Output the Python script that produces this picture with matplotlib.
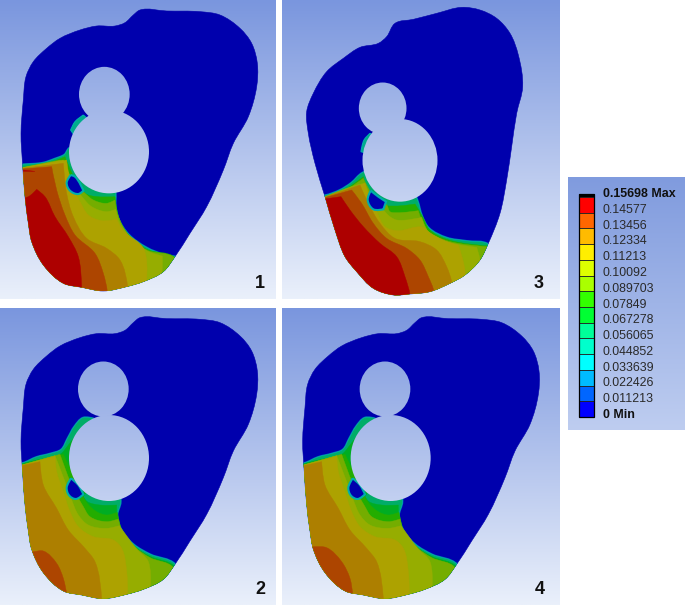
import numpy as np
import matplotlib
matplotlib.use("Agg")
import matplotlib.pyplot as plt
from matplotlib.patches import PathPatch, Ellipse, Rectangle
from matplotlib.path import Path

plt.rcParams["font.family"] = ["Liberation Sans", "DejaVu Sans"]

# legend
legend_labels = ["0.15698 Max", "0.14577", "0.13456", "0.12334", "0.11213", "0.10092",
                 "0.089703", "0.07849", "0.067278", "0.056065", "0.044852", "0.033639",
                 "0.022426", "0.011213", "0 Min"]
legend_colors = ["#FF0000", "#FF6600", "#FFBB00", "#FFEE00", "#DDFF00", "#AAFF00", "#33FF00",
                 "#00FF33", "#00FF99", "#00FFCC", "#00FFFF", "#00BBFF", "#0066FF", "#0000FF"]
panel_labels = ["1", "2", "3", "4"]

outline_a = [(420, 30), (500, 33), (600, 35), (660, 45), (720, 85), (755, 130), (772, 190), (770, 260),
             (745, 350), (700, 430), (670, 510), (620, 620), (570, 700), (525, 770), (490, 815), (430, 845),
             (380, 860), (310, 873), (245, 862), (190, 850), (130, 795), (95, 725), (85, 670), (75, 590),
             (68, 495), (63, 400), (70, 300), (78, 230), (100, 185), (140, 145), (180, 115), (240, 90),
             (290, 78), (345, 78), (375, 68), (400, 45)]
outline_b = [(545, 22), (600, 30), (650, 55), (690, 100), (715, 165), (728, 260), (710, 340), (695, 440),
             (680, 540), (660, 640), (625, 730), (600, 780), (555, 825), (510, 850), (450, 875), (390, 882),
             (340, 885), (280, 865), (230, 815), (195, 770), (165, 690), (135, 590), (105, 490), (85, 400),
             (80, 335), (100, 280), (140, 215), (190, 175), (240, 142), (295, 130), (320, 110), (345, 70),
             (400, 58), (470, 40)]

# holes: centre x, centre y, width, height
holes_1 = [(313, 283, 152, 165), (327, 455, 240, 250)]
holes_2 = [(310, 252, 152, 165), (327, 459, 240, 258)]
holes_3 = [(308, 325, 143, 155), (360, 481, 225, 248)]

# teal slivers above the big hole
sliver_1 = [(250, 345), (225, 365), (212, 390), (225, 410), (290, 380)]
sliver_3 = [(270, 400), (252, 420), (243, 455), (290, 470), (300, 420)]

# stress bands of panel 1, (legend index from the bottom, polygon)
front_1 = [(30, 497), (70, 495), (130, 490), (165, 478), (195, 465), (210, 445), (330, 450), (345, 580),
           (345, 620), (355, 660), (385, 705), (440, 745), (490, 765), (530, 772), (560, 900), (30, 900)]
bands_1 = [
    (7, [(30, 503), (130, 495), (195, 470), (245, 570), (265, 585), (345, 590), (350, 625), (360, 662),
         (388, 707), (440, 748), (525, 773), (560, 900), (30, 900)]),
    (8, [(30, 510), (180, 480), (240, 565), (255, 580), (280, 600), (320, 610), (345, 600), (352, 640),
         (388, 710), (440, 750), (525, 775), (560, 900), (30, 900)]),
    (9, [(30, 510), (190, 480), (225, 560), (250, 595), (275, 620), (320, 635), (347, 628), (358, 665),
         (388, 708), (440, 752), (487, 768), (487, 800), (480, 900), (30, 900)]),
    (10, [(30, 510), (200, 480), (215, 560), (240, 605), (265, 645), (305, 662), (350, 658), (368, 690),
          (432, 748), (432, 900), (30, 900)]),
    (11, [(30, 510), (190, 490), (200, 580), (220, 650), (260, 715), (320, 745), (360, 780), (383, 860),
          (383, 900), (30, 900)]),
    (12, [(30, 510), (155, 500), (170, 570), (195, 645), (225, 705), (285, 760), (310, 820), (322, 875),
          (322, 900), (30, 900)]),
    (13, [(30, 600), (85, 590), (110, 568), (135, 590), (165, 650), (205, 710), (235, 770), (245, 862),
          (245, 900), (30, 900)]),
    (13, [(70, 510), (105, 514), (70, 514)]),
]
pocket_1 = [(212, 525), (200, 548), (210, 572), (235, 582), (250, 572), (225, 530)]

# panels 2 and 4 share the same field, only the corner blob grows
front_2 = [(30, 478), (68, 476), (110, 458), (150, 448), (185, 435), (205, 400), (225, 365), (250, 340),
           (278, 342), (330, 450), (360, 590), (350, 630), (365, 680), (400, 720), (450, 750), (525, 780),
           (560, 900), (30, 900)]
bands_2 = [
    (6, [(30, 485), (110, 465), (180, 448), (205, 420), (240, 375), (330, 450), (250, 575), (262, 590),
         (300, 600), (350, 600), (352, 640), (367, 682), (402, 724), (450, 754), (525, 785), (560, 900),
         (30, 900)]),
    (7, [(30, 490), (190, 448), (215, 500), (262, 595), (290, 620), (320, 630), (352, 622), (358, 650),
         (370, 690), (405, 727), (450, 758), (520, 788), (540, 900), (30, 900)]),
    (8, [(30, 490), (180, 448), (215, 540), (250, 605), (270, 635), (320, 650), (355, 642), (368, 685),
         (405, 727), (450, 758), (520, 788), (540, 900), (30, 900)]),
    (9, [(30, 490), (165, 452), (195, 530), (215, 585), (235, 630), (265, 660), (320, 670), (358, 662),
         (410, 732), (445, 770), (445, 900), (30, 900)]),
    (10, [(30, 490), (165, 455), (170, 500), (190, 560), (208, 615), (235, 665), (280, 695), (340, 705),
          (365, 730), (380, 800), (383, 900), (30, 900)]),
    (11, [(30, 490), (120, 470), (130, 540), (170, 610), (205, 675), (255, 730), (285, 770), (305, 880),
          (305, 900), (30, 900)]),
]
blob_2 = [(30, 745), (100, 740), (130, 738), (170, 775), (190, 820), (200, 865), (150, 900), (30, 900)]
blob_4 = [(30, 730), (100, 725), (135, 728), (180, 770), (205, 820), (213, 865), (150, 900), (30, 900)]
pocket_2 = [(213, 520), (200, 548), (208, 572), (228, 582), (250, 568), (235, 540)]

# panel 3
front_3 = [(110, 590), (135, 588), (180, 572), (215, 550), (248, 520), (360, 490), (410, 600), (425, 650),
           (445, 685), (500, 715), (560, 725), (625, 735), (660, 800), (660, 920), (110, 920)]
bands_3 = [
    (7, [(110, 597), (180, 578), (215, 556), (250, 530), (285, 608), (345, 618), (405, 612), (428, 650),
         (448, 688), (500, 718), (625, 738), (660, 900), (110, 920)]),
    (8, [(110, 600), (180, 580), (250, 535), (290, 600), (320, 615), (330, 635), (350, 638), (415, 632),
         (440, 690), (500, 722), (620, 740), (680, 900), (110, 920)]),
    (9, [(110, 600), (230, 555), (255, 550), (285, 610), (305, 625), (330, 650), (350, 660), (425, 652),
         (445, 695), (500, 725), (590, 742), (600, 780), (600, 920), (110, 920)]),
    (10, [(110, 600), (255, 550), (265, 585), (290, 635), (315, 680), (350, 692), (430, 682), (445, 695),
          (500, 725), (535, 735), (555, 815), (540, 920), (110, 920)]),
    (11, [(110, 600), (240, 555), (265, 610), (300, 670), (345, 715), (420, 725), (470, 750), (500, 800),
          (515, 845), (520, 920), (110, 920)]),
    (12, [(110, 600), (215, 570), (245, 610), (280, 670), (320, 715), (380, 745), (420, 780), (445, 830),
          (462, 875), (462, 920), (110, 920)]),
    (13, [(110, 600), (183, 590), (210, 630), (250, 680), (300, 730), (350, 770), (375, 830), (390, 885),
          (390, 920), (110, 920)]),
]
pocket_3 = [(272, 572), (263, 600), (280, 628), (310, 628), (318, 605), (295, 590)]

BG_TOP = np.array([122, 150, 222]) / 255
BG_BOTTOM = np.array([234, 240, 251]) / 255
LEVELS_BOTTOM_UP = legend_colors[::-1]


def model_color(level):
    # the model is lit, so it looks darker than the legend
    return tuple(0.68 * np.array(matplotlib.colors.to_rgb(LEVELS_BOTTOM_UP[level])))


def gradient(ax, x0, x1, y0, y1, clip=None, top=BG_TOP, bottom=BG_BOTTOM):
    t = np.linspace(0, 1, 256)[:, None, None]
    img = top + (bottom - top) * t
    im = ax.imshow(img, extent=(x0, x1, y1, y0), aspect="auto", zorder=1, interpolation="bilinear")
    if clip is not None:
        im.set_clip_path(clip)
    return im


def smooth_path(pts, ox, oy):
    # closed curve through the read points; turns sharper than 60 degrees stay corners
    p = np.array(pts, dtype=float) + (ox, oy)
    n = len(p)
    tang = np.zeros_like(p)
    for i in range(n):
        a = p[i] - p[i - 1]
        b = p[(i + 1) % n] - p[i]
        a = a / np.linalg.norm(a)
        b = b / np.linalg.norm(b)
        if a @ b > 0.5:
            tang[i] = (a + b) / np.linalg.norm(a + b)
    verts = [p[0]]
    codes = [Path.MOVETO]
    for i in range(n):
        j = (i + 1) % n
        h = np.linalg.norm(p[j] - p[i]) / 3
        verts += [p[i] + tang[i] * h, p[j] - tang[j] * h, p[j]]
        codes += [Path.CURVE4] * 3
    return Path(verts, codes)


def draw_panel(ax, ox, oy, box, outline, holes, front, bands, pocket, label, sliver=None):
    x0, x1, y0, y1 = box
    gradient(ax, x0, x1, y0, y1)
    body = PathPatch(smooth_path(outline, ox, oy), fc=model_color(0), ec=model_color(0), lw=0.4, zorder=2)
    ax.add_patch(body)

    def clipped(pts, **kw):
        p = PathPatch(smooth_path(pts, ox, oy), zorder=3, **kw)
        ax.add_patch(p)
        p.set_clip_path(body)
        return p

    # transition rim on the blue boundary
    clipped(front, fc=model_color(5), ec=model_color(2), lw=2.4)
    clipped(front, fc=model_color(5), ec=model_color(3), lw=1.5)
    clipped(front, fc=model_color(5), ec=model_color(5), lw=0.6)
    if sliver is not None:
        clipped(sliver, fc=model_color(4), ec=model_color(3), lw=0.8)
    for level, pts in bands:
        clipped(pts, fc=model_color(level), ec=model_color(level), lw=0.3)
    clipped(pocket, fc=model_color(0), ec=model_color(3), lw=1.5)

    for cx, cy, w, h in holes:
        hole = Ellipse((cx + ox, cy + oy), w, h, fc="none", ec="none", zorder=4)
        ax.add_patch(hole)
        im = gradient(ax, x0, x1, y0, y1, clip=hole)
        im.set_zorder(4)

    ax.text(ox + 780 if label in ("1", "2") else ox + 775, y1 - 47, label, fontsize=13, fontweight="bold",
            ha="center", va="center", color="#111111", zorder=6)


fig = plt.figure(figsize=(6.85, 6.05), dpi=100, facecolor="white")
ax = fig.add_axes([0, 0, 1, 1])

outline_a2 = [(x, y + 8) for x, y in outline_a]
draw_panel(ax, 0, 0, (0, 825, 0, 897), outline_a, holes_1, front_1, bands_1, pocket_1, panel_labels[0], sliver_1)
draw_panel(ax, 0, 915, (0, 825, 924, 1815), outline_a2, holes_2, front_2,
           bands_2 + [(12, blob_2)], pocket_2, panel_labels[1])
draw_panel(ax, 840, 0, (846, 1677, 0, 897), outline_b, holes_3, front_3, bands_3, pocket_3, panel_labels[2], sliver_3)
draw_panel(ax, 845, 915, (846, 1677, 924, 1815), outline_a2, holes_2, front_2,
           bands_2 + [(12, blob_4)], pocket_2, panel_labels[3])

# legend box
gradient(ax, 1704, 2055, 531, 1290, top=np.array([128, 155, 222]) / 255, bottom=np.array([190, 205, 240]) / 255)
bar_x0, bar_x1 = 1737, 1782
bar_top, bar_bottom = 582, 1251
ax.add_patch(Rectangle((bar_x0, bar_top), bar_x1 - bar_x0, 9, fc="black", ec="black", lw=0.5, zorder=5))
cell = (bar_bottom - bar_top - 9) / len(legend_colors)
for i, c in enumerate(legend_colors):
    ax.add_patch(Rectangle((bar_x0, bar_top + 9 + i * cell), bar_x1 - bar_x0, cell, fc=c, ec="#222222",
                           lw=0.6, zorder=5))
ax.add_patch(Rectangle((bar_x0, bar_top), bar_x1 - bar_x0, bar_bottom - bar_top, fc="none", ec="black",
                       lw=0.9, zorder=6))
step = (1245 - 582) / (len(legend_labels) - 1)
for i, lab in enumerate(legend_labels):
    bold = i == 0 or i == len(legend_labels) - 1
    ax.text(1808, 582 + i * step, lab, fontsize=8.9, va="center", ha="left",
            fontweight="bold" if bold else "normal", color="#101010" if bold else "#2a2a2a", zorder=6)

ax.set_xlim(0, 2055)
ax.set_ylim(1815, 0)
ax.axis("off")
fig.savefig("out.png", dpi=100, facecolor="white")
